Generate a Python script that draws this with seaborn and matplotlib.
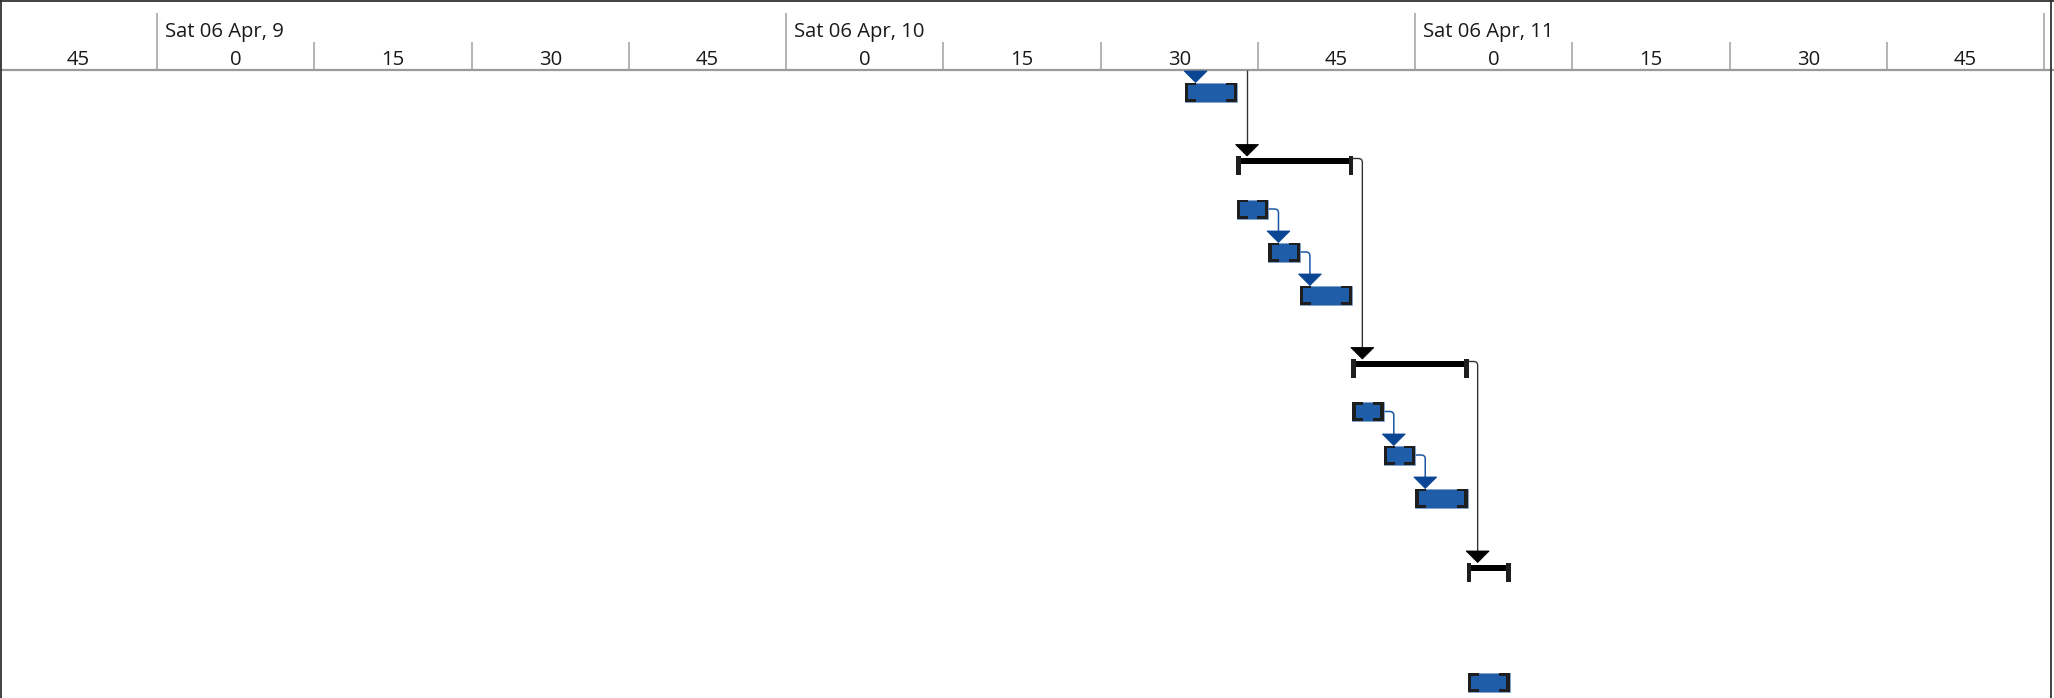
import matplotlib
matplotlib.use("Agg")
import matplotlib.pyplot as plt
import seaborn as sns
import pandas as pd
from matplotlib.path import Path
from matplotlib.patches import PathPatch, Polygon

sns.set_theme(style="white")
plt.rcParams['font.family'] = ['Open Sans', 'DejaVu Sans']

# ---------------- data ----------------
view_start = "08:45"
hour_times = ["09:00", "10:00", "11:00", "12:00"]
hour_labels = ["Sat 06 Apr, 9", "Sat 06 Apr, 10", "Sat 06 Apr, 11", ""]
minor_times = ["08:45", "09:00", "09:15", "09:30", "09:45", "10:00", "10:15",
               "10:30", "10:45", "11:00", "11:15", "11:30", "11:45"]
minor_labels = ["45", "0", "15", "30", "45", "0", "15", "30", "45", "0", "15", "30", "45"]

task_ids = ["T1", "G1", "T2", "T3", "T4", "G2", "T5", "T6", "T7", "G3", "T8"]
task_kind = ["task", "summary", "task", "task", "task", "summary",
             "task", "task", "task", "summary", "task"]
task_start = ["10:38", "10:43", "10:43", "10:46", "10:49", "10:54",
              "10:54", "10:57", "11:00", "11:05", "11:05"]
task_end = ["10:43", "10:54", "10:46", "10:49", "10:54", "11:05",
            "10:57", "11:00", "11:05", "11:09", "11:09"]

link_from = ["T2", "T3", "G1", "T5", "T6", "G2"]
link_to = ["T3", "T4", "G2", "T6", "T7", "G3"]

# ---------------- layout ----------------
W, H, DPI = 2054, 698, 100
PXM = 10.4833              # pixels per minute
ROW_Y = [92, 165.5, 209, 252, 295, 368.5, 411.5, 455, 498, 572, 682.5]
HEADER_B = 70
BLUE = "#1f5da8"
BLUE_DK = "#0b4695"
BLUE_LN = "#1a56a3"
CAP = "#1e1e1e"
FS = 14.6


def tmin(s):
    h, m = s.split(":")
    h0, m0 = view_start.split(":")
    return (int(h) * 60 + int(m)) - (int(h0) * 60 + int(m0))


def px(n):
    return n / PXM


df = pd.DataFrame({"id": task_ids, "kind": task_kind,
                   "start": [tmin(s) for s in task_start],
                   "end": [tmin(s) for s in task_end],
                   "y": ROW_Y})
df = df.set_index("id")

fig = plt.figure(figsize=(W / DPI, H / DPI), dpi=DPI)
ax = fig.add_axes([0, 0, 1, 1])
ax.set_xlim(0, W / PXM)
ax.set_ylim(H, 0)
ax.axis("off")

# ---------------- header ----------------
for t, lab in zip(hour_times, hour_labels):
    x = tmin(t)
    ax.vlines(x, 13, HEADER_B, color="#a0a0a0", lw=1.1)
    if lab:
        ax.text(x + px(8), 32, lab, ha="left", va="center", fontsize=FS, color="#1a1a1a")
for t, lab in zip(minor_times, minor_labels):
    x = tmin(t)
    if t not in hour_times:
        ax.vlines(x, 42, HEADER_B, color="#a0a0a0", lw=1.1)
    ax.text(x + 7.5, 60, lab, ha="center", va="center", fontsize=FS, color="#1a1a1a")
ax.hlines(HEADER_B, 0, W / PXM, color="#9a9a9a", lw=1.6)

# borders
ax.hlines(0.7, 0, W / PXM, color="#333333", lw=1.3)
ax.vlines(px(0.7), 0, H, color="#333333", lw=1.3)
ax.vlines(px(2051), 0, H, color="#333333", lw=1.3)

TB = 19   # task bar height
TRI_W, TRI_H = 11.5, 11.5


def triangle(xc, ytop, color):
    ax.add_patch(Polygon([(xc - px(TRI_W), ytop - TRI_H), (xc + px(TRI_W), ytop - TRI_H),
                          (xc, ytop)], closed=True, facecolor=color, edgecolor=color,
                         lw=0.6, zorder=5))


def elbow(x0, y0, x1, y1, color, lw):
    r = 4
    verts = [(x0, y0), (x1 - px(r), y0), (x1, y0), (x1, y0 + r), (x1, y1)]
    codes = [Path.MOVETO, Path.LINETO, Path.CURVE3, Path.CURVE3, Path.LINETO]
    ax.add_patch(PathPatch(Path(verts, codes), fill=False, edgecolor=color, lw=lw, zorder=3))


# ---------------- bars ----------------
for tid, r in df.iterrows():
    s, e, yc = r["start"], r["end"], r["y"]
    if r["kind"] == "task":
        ax.barh(yc, e - s, left=s, height=TB, color=BLUE, edgecolor="#7f9fc8",
                linewidth=0.5, zorder=4)
        top, bot = yc - TB / 2, yc + TB / 2
        # bracket ends
        ax.barh(yc, px(3.4), left=s, height=TB, color=CAP, lw=0, zorder=5)
        ax.barh(yc, px(3.4), left=e - px(3.4), height=TB, color=CAP, lw=0, zorder=5)
        for yy in (top + 1.4, bot - 1.4):
            ax.barh(yy, px(11), left=s, height=2.8, color=CAP, lw=0, zorder=5)
            ax.barh(yy, px(11), left=e - px(11), height=2.8, color=CAP, lw=0, zorder=5)
    else:
        ax.barh(yc - 4.5, e - s, left=s, height=6, color="black", lw=0, zorder=4)
        ax.barh(yc, px(4.5), left=s - px(1), height=19, color=CAP, lw=0, zorder=5)
        ax.barh(yc, px(4.5), left=e - px(3.5), height=19, color=CAP, lw=0, zorder=5)

# incoming markers for the first visible task / group
t1 = df.loc["T1"]
triangle(t1["start"] + px(11), t1["y"] - TB / 2, BLUE_DK)
g1 = df.loc["G1"]
x_in = t1["end"] + px(10)
ax.vlines(x_in, HEADER_B, g1["y"] - 9.5 - TRI_H, color="#333333", lw=1.0, zorder=3)
triangle(x_in, g1["y"] - 9.5, "black")

# ---------------- links ----------------
for a, b in zip(link_from, link_to):
    ra, rb = df.loc[a], df.loc[b]
    xv = ra["end"] + px(10)
    if ra["kind"] == "task":
        ytop = rb["y"] - TB / 2
        elbow(ra["end"], ra["y"], xv, ytop - TRI_H, BLUE_LN, 1.1)
        triangle(xv, ytop, BLUE_DK)
    else:
        ytop = rb["y"] - 9.5
        elbow(ra["end"], ra["y"] - 7, xv, ytop - TRI_H, "#333333", 1.0)
        triangle(xv, ytop, "black")

fig.savefig("out.png", dpi=DPI)
